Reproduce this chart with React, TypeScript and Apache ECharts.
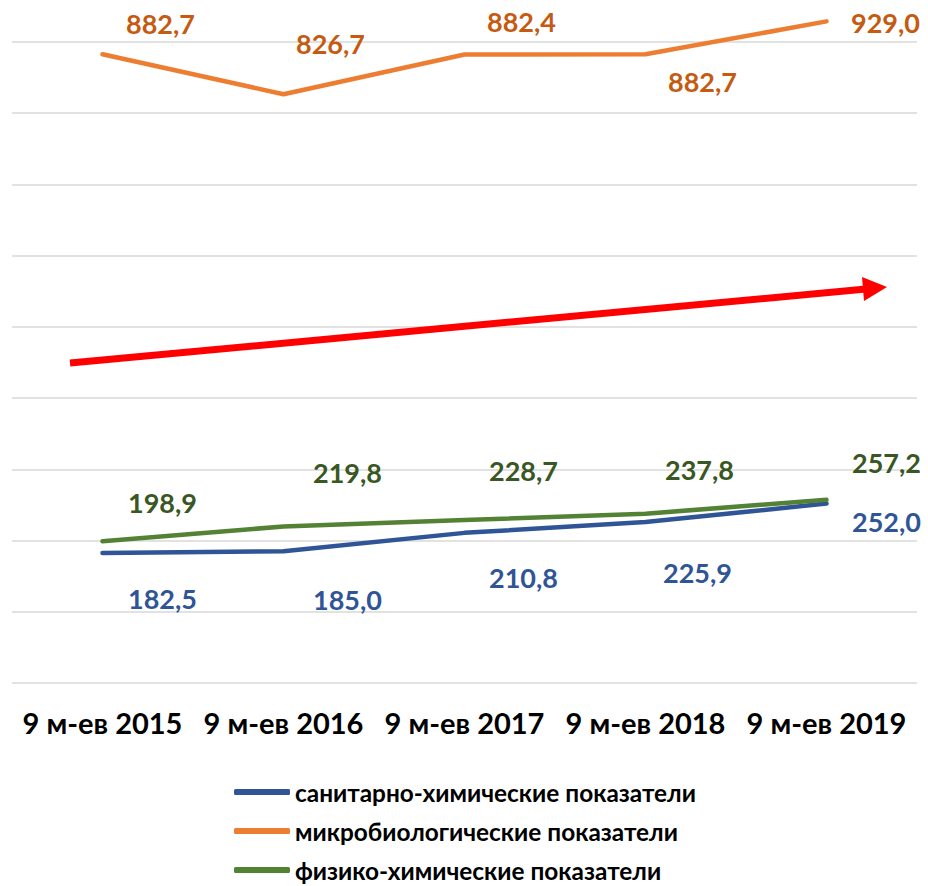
import React, { useEffect, useRef } from "react";
import * as echarts from "echarts";

const categories = ["9 м-ев 2015", "9 м-ев 2016", "9 м-ев 2017", "9 м-ев 2018", "9 м-ев 2019"];
const seriesNames = [
  "санитарно-химические показатели",
  "микробиологические показатели",
  "физико-химические показатели",
];
const sanitaryChem = [182.5, 185.0, 210.8, 225.9, 252.0];
const microbio = [882.7, 826.7, 882.4, 882.7, 929.0];
const physChem = [198.9, 219.8, 228.7, 237.8, 257.2];

// label offsets (style only)
const sanitaryOffsets = [[60, 45], [64, 48], [59, 45], [52, 50], [60, 18]];
const microOffsets = [[58, -31], [47, -51], [57, -33], [57, 27], [59, 1]];
const physOffsets = [[60, -39], [64, -54], [59, -50], [54, -44], [60, -37]];

const FONT = "Lato, 'Open Sans', sans-serif";

function fmt(v: number) {
  return v.toFixed(1).replace(".", ",");
}

function buildData(values: number[], offsets: number[][], color: string) {
  return values.map((v, i) => ({
    value: v,
    label: {
      show: true,
      position: "inside",
      offset: offsets[i],
      color,
      fontSize: 27,
      fontWeight: "bold",
      fontFamily: FONT,
      formatter: (p: any) => fmt(p.value),
    },
  }));
}

export default function App() {
  const ref = useRef<HTMLDivElement>(null);
  useEffect(() => {
    if (!ref.current) return;
    const chart = echarts.init(ref.current, null, { renderer: "svg" });
    const mkSeries = (name: string, values: number[], offsets: number[][], color: string, labelColor: string) => ({
      name,
      type: "line",
      data: buildData(values, offsets, labelColor),
      symbol: "circle",
      symbolSize: 0.1,
      showSymbol: true,
      clip: false,
      itemStyle: { color },
      lineStyle: { color, width: 4.5, cap: "round", join: "round" },
      emphasis: { disabled: true },
    });
    chart.setOption({
      animation: false,
      grid: { left: 12, right: 11, top: 42, bottom: 203, containLabel: false },
      xAxis: {
        type: "category",
        data: categories,
        boundaryGap: true,
        axisLine: { show: false },
        axisTick: { show: false },
        axisLabel: {
          color: "#000",
          fontSize: 29,
          fontWeight: "bold",
          fontFamily: FONT,
          margin: 25,
          interval: 0,
        },
      },
      yAxis: {
        type: "value",
        min: 0,
        max: 900,
        interval: 100,
        axisLabel: { show: false },
        axisLine: { show: false },
        axisTick: { show: false },
        splitLine: { lineStyle: { color: "#D9D9D9", width: 1.5 } },
      },
      legend: {
        orient: "vertical",
        left: 234,
        top: 778,
        height: 120,
        padding: 0,
        itemWidth: 56,
        itemHeight: 6,
        itemGap: 11,
        icon: "roundRect",
        data: seriesNames,
        textStyle: {
          color: "#000",
          fontSize: 24.4,
          fontWeight: "bold",
          fontFamily: FONT,
          lineHeight: 28,
        },
      },
      series: [
        mkSeries(seriesNames[0], sanitaryChem, sanitaryOffsets, "#2F5597", "#2F5597"),
        mkSeries(seriesNames[1], microbio, microOffsets, "#ED7D31", "#C55A11"),
        mkSeries(seriesNames[2], physChem, physOffsets, "#548235", "#385723"),
      ],
      graphic: [
        {
          type: "line",
          shape: { x1: 70, y1: 363, x2: 866, y2: 289 },
          style: { stroke: "#FF0000", lineWidth: 7 },
          z: 10,
        },
        {
          type: "polygon",
          shape: { points: [[864, 301], [887, 287], [862, 277]] },
          style: { fill: "#FF0000" },
          z: 10,
        },
      ],
    });
    return () => chart.dispose();
  }, []);
  return <div ref={ref} style={{ width: 928, height: 886, position: "absolute", left: 0, top: 0 }} />;
}
